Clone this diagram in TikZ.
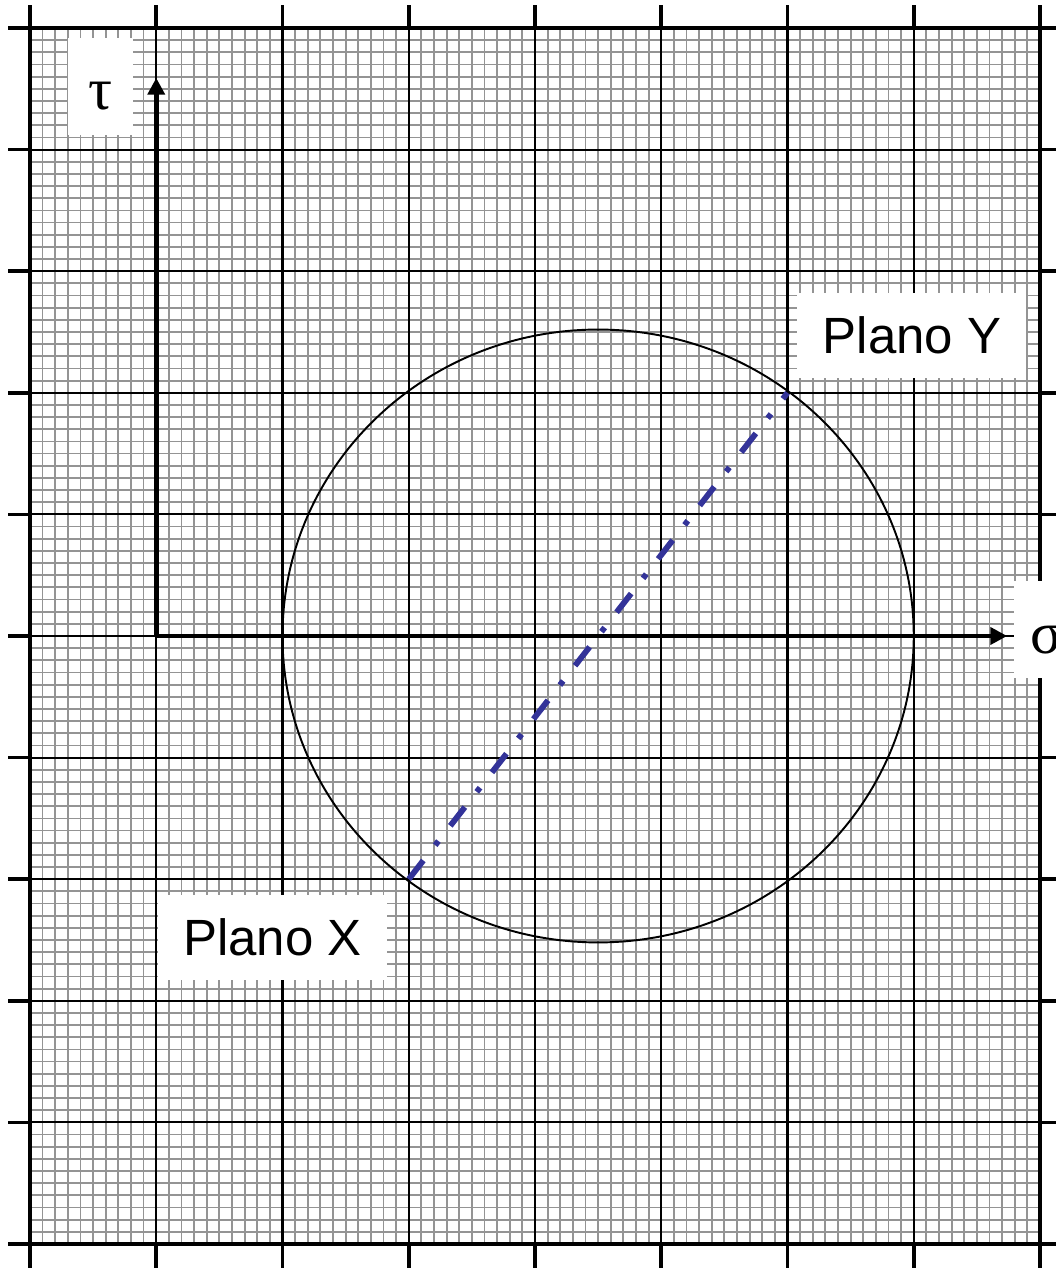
\documentclass[tikz,border=0pt]{standalone}
\usepackage{fontspec}
\setmainfont{Liberation Sans}
\newfontfamily\greekfont{Liberation Serif}
\usepackage{tikz}
\usetikzlibrary{positioning,arrows.meta}
\definecolor{planeblue}{RGB}{51,51,153}

\begin{document}
\begin{tikzpicture}[x=2.525cm, y=2.432cm,
    minorline/.style={black!42, line width=1pt},
    majorline/.style={black, line width=1.2pt},
    borderline/.style={black, line width=2.1pt},
    axisline/.style={black, line width=2.8pt, -{Triangle[length=9.6pt, width=9.6pt]}},
    mohrline/.style={black, line width=1.1pt},
    footline/.style={black, line width=1.4pt},
    planeline/.style={planeblue, line width=3.3pt, dash pattern=on 13.5pt off 11pt on 3pt off 11pt},
    planolabel/.style={fill=white, inner sep=0pt, font=\fontsize{29}{35}\selectfont, minimum width=4.58cm, minimum height=1.7cm},
    greeklabel/.style={fill=white, inner sep=0pt, font=\greekfont\fontsize{34}{40}\selectfont, minimum width=1.3cm, text height=1.44cm, text depth=0.5cm}
]

% Page frame
\useasboundingbox (-0.2376, -0.1974) rectangle (8.1267, 10.2303);
\clip (-0.2376, -0.1974) rectangle (8.1267, 10.2303);
\fill[white] (-0.2376, -0.1974) rectangle (8.1267, 10.2303);

% Graph paper: minor lines
\foreach \i in {1,...,79} {
    \draw[minorline] (\i/10, 0) -- (\i/10, 10);
}
\foreach \j in {1,...,99} {
    \draw[minorline] (0, \j/10) -- (8, \j/10);
}

% Graph paper: major lines and ticks
\foreach \i in {1,...,7} {
    \draw[majorline] (\i, 0) -- (\i, 10);
}
\foreach \j in {1,...,9} {
    \draw[majorline] (0, \j) -- (8, \j);
}
\foreach \i in {0,...,8} {
    \draw[borderline] (\i, 10) -- (\i, 10.19);
    \draw[borderline] (\i, 0) -- (\i, -0.3);
}
\foreach \j in {0,...,10} {
    \draw[borderline] (-0.174, \j) -- (0, \j);
    \draw[borderline] (8, \j) -- (8.3, \j);
}
\draw[borderline] (0, 0) rectangle (8, 10);

% Points of the Mohr circle
\coordinate (O) at (1, 5);
\coordinate (tauend) at (1, 9.59);
\coordinate (sigmaend) at (7.74, 5);
\coordinate (C) at (4.5, 5);
\coordinate (PX) at (3, 3);
\coordinate (PY) at (6, 7);
\coordinate (PXfoot) at (3, 5);
\coordinate (PYfoot) at (6, 5);

% Circle, plane lines and diameter
\draw[mohrline] (C) circle [x radius=2.5, y radius=2.52];
\draw[footline] (PX) -- (PXfoot);
\draw[footline] (PY) -- (PYfoot);
\draw[planeline] (PX) -- (PY);

% Axes
\draw[axisline] (O) -- (tauend);
\draw[axisline] (O) -- (sigmaend);

% Labels
\node[greeklabel] (tau) at (0.558, 9.519) {τ};
\node[greeklabel] (sigma) at (8.05, 5.053) {σ};
\node[planolabel] (planox) at (1.921, 2.521) {Plano X};
\node[planolabel] (planoy) at (6.986, 7.471) {Plano Y};

\end{tikzpicture}
\end{document}
